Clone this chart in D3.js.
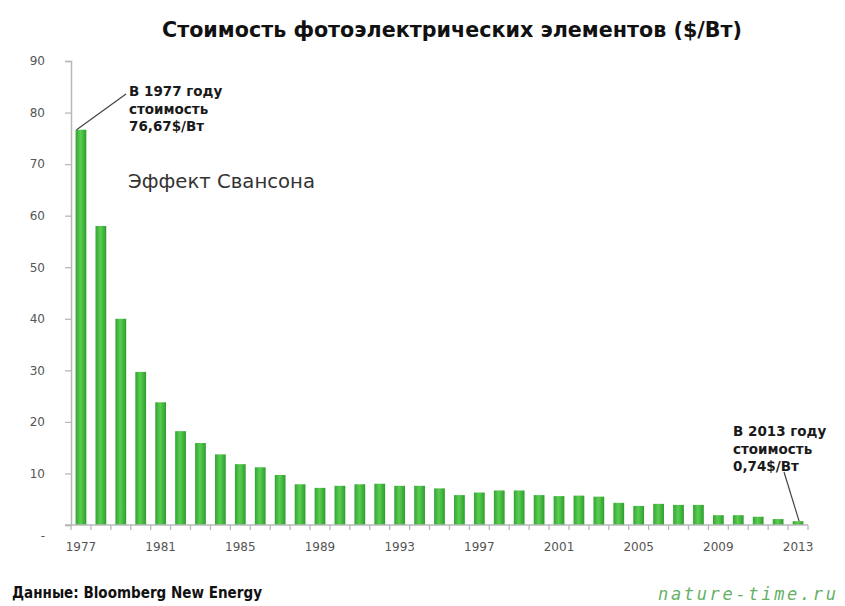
<!DOCTYPE html>
<html>
<head>
<meta charset="utf-8">
<script src="https://cdn.jsdelivr.net/npm/d3@7/dist/d3.min.js"></script>
<style>
  html, body { margin: 0; padding: 0; background: #fff; }
  svg { display: block; }
</style>
</head>
<body>
<svg id="chart" width="845" height="606"></svg>
<script>
// Стоимость фотоэлектрических элементов, $/Вт, 1977–2013
const years = d3.range(1977, 2014);
const costs = [
  76.67, 58.0, 40.0, 29.7, 23.8, 18.2, 15.9, 13.7, 11.8, 11.2,
  9.7, 7.9, 7.2, 7.6, 7.9, 8.0, 7.6, 7.6, 7.1, 5.8,
  6.3, 6.7, 6.7, 5.8, 5.6, 5.7, 5.5, 4.3, 3.7, 4.1,
  3.9, 3.9, 1.9, 1.9, 1.6, 1.15, 0.74
];
const yTicks = [0, 10, 20, 30, 40, 50, 60, 70, 80, 90];
const xLabelYears = [1977, 1981, 1985, 1989, 1993, 1997, 2001, 2005, 2009, 2013];

const data = years.map((y, i) => ({ year: y, value: costs[i] }));

const svg = d3.select("#chart");
const margin = { left: 71, right: 37, top: 61, bottom: 81 };
const W = 845, H = 606;

const x = d3.scaleBand()
  .domain(years)
  .range([margin.left, W - margin.right])
  .paddingInner(0.46)
  .paddingOuter(0.23);

const y = d3.scaleLinear()
  .domain([0, 90])
  .range([H - margin.bottom, margin.top]);

// bar gradient
const defs = svg.append("defs");
const grad = defs.append("linearGradient").attr("id", "barGrad")
  .attr("x1", "0").attr("x2", "1").attr("y1", "0").attr("y2", "0");
grad.append("stop").attr("offset", "0%").attr("stop-color", "#34a334");
grad.append("stop").attr("offset", "45%").attr("stop-color", "#58cf50");
grad.append("stop").attr("offset", "100%").attr("stop-color", "#2f9c2f");

// title
svg.append("text")
  .attr("x", 452).attr("y", 37)
  .attr("text-anchor", "middle")
  .attr("font-family", "'Liberation Sans Narrow', 'Arial Narrow', 'DejaVu Sans Condensed', sans-serif")
  .attr("font-weight", "bold")
  .attr("font-size", 22)
  .attr("textLength", 580)
  .attr("lengthAdjust", "spacingAndGlyphs")
  .attr("fill", "#111")
  .text("Стоимость фотоэлектрических элементов ($/Вт)");

// bars
svg.append("g").selectAll("rect")
  .data(data)
  .join("rect")
  .attr("x", d => x(d.year))
  .attr("width", x.bandwidth())
  .attr("y", d => y(d.value))
  .attr("height", d => y(0) - y(d.value))
  .attr("fill", "url(#barGrad)");

// y axis
const yAxis = d3.axisLeft(y)
  .tickValues(yTicks)
  .tickSize(6)
  .tickPadding(20)
  .tickFormat(d => d === 0 ? "-" : d);
const gy = svg.append("g")
  .attr("transform", `translate(${margin.left},0)`)
  .call(yAxis);
gy.select(".domain").attr("stroke", "#b8b8b8").attr("stroke-width", 1.5);
gy.selectAll(".tick line").attr("stroke", "#b8b8b8").attr("stroke-width", 1.3);
gy.selectAll(".tick text")
  .attr("font-family", "'DejaVu Sans', Verdana, sans-serif")
  .attr("font-size", 12)
  .attr("fill", "#555");
gy.selectAll(".tick").filter(d => d === 0).select("text").attr("dy", "1.2em");

// x axis: baseline, boundary ticks between bars, labels every four years
const gx = svg.append("g");
const [x0, x1] = x.range();
const step = x.step();
gx.append("line")
  .attr("x1", x0 - 6).attr("x2", x1)
  .attr("y1", y(0)).attr("y2", y(0))
  .attr("stroke", "#b8b8b8").attr("stroke-width", 1.5);
gx.selectAll("line.tk")
  .data(d3.range(years.length + 1))
  .join("line")
  .attr("class", "tk")
  .attr("x1", k => x0 + k * step).attr("x2", k => x0 + k * step)
  .attr("y1", y(0)).attr("y2", y(0) + 5)
  .attr("stroke", "#b8b8b8").attr("stroke-width", 1.3);
gx.selectAll("text")
  .data(xLabelYears)
  .join("text")
  .attr("x", d => x(d) + x.bandwidth() / 2)
  .attr("y", y(0) + 26)
  .attr("text-anchor", "middle")
  .attr("font-family", "'DejaVu Sans', Verdana, sans-serif")
  .attr("font-size", 12)
  .attr("fill", "#555")
  .text(d => d);

// annotations
const noteFont = "'DejaVu Sans', Verdana, sans-serif";
function note(lines, tx, ty, target, from) {
  const g = svg.append("g");
  g.append("line")
    .attr("x1", from[0]).attr("y1", from[1])
    .attr("x2", target[0]).attr("y2", target[1])
    .attr("stroke", "#444").attr("stroke-width", 1.2);
  lines.forEach((t, i) => {
    g.append("text")
      .attr("x", tx).attr("y", ty + i * 17.5)
      .attr("font-family", noteFont)
      .attr("font-weight", "bold")
      .attr("font-size", 13.5)
      .attr("fill", "#1a1a1a")
      .text(t);
  });
}
const first = data[0], last = data[data.length - 1];
note(["В 1977 году", "стоимость", "76,67$/Вт"], 129, 96,
  [x(first.year) + 1, y(first.value)], [126, 94]);
note(["В 2013 году", "стоимость", "0,74$/Вт"], 733, 436,
  [x(last.year) + x.bandwidth() * 0.6, y(last.value)], [784, 472]);

// effect label
svg.append("text")
  .attr("x", 128).attr("y", 188)
  .attr("font-family", "'DejaVu Sans', Verdana, sans-serif")
  .attr("font-size", 19)
  .attr("fill", "#333")
  .attr("textLength", 187)
  .attr("lengthAdjust", "spacingAndGlyphs")
  .text("Эффект Свансона");

// source
svg.append("text")
  .attr("x", 12).attr("y", 598)
  .attr("font-family", "'Liberation Sans Narrow', 'Arial Narrow', 'DejaVu Sans Condensed', sans-serif")
  .attr("font-weight", "bold")
  .attr("font-size", 15)
  .attr("fill", "#111")
  .attr("textLength", 250)
  .attr("lengthAdjust", "spacingAndGlyphs")
  .text("Данные: Bloomberg New Energy");

// site mark
svg.append("text")
  .attr("x", 658).attr("y", 600)
  .attr("font-family", "'DejaVu Sans Mono', monospace")
  .attr("font-style", "italic")
  .attr("font-size", 17)
  .attr("fill", "#64b064")
  .attr("textLength", 178)
  .attr("lengthAdjust", "spacing")
  .text("nature-time.ru");
</script>
</body>
</html>
